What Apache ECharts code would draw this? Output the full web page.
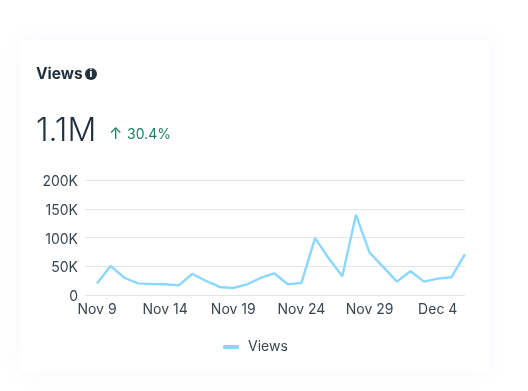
<!DOCTYPE html>
<html>
<head>
<meta charset="utf-8">
<style>
html, body { margin: 0; padding: 0; background: #fff; }
#main { width: 528px; height: 391px; }
</style>
</head>
<body>
<div id="main"></div>
<script src="https://cdn.jsdelivr.net/npm/echarts@6/dist/echarts.min.js"></script>
<script>
// one entry per day, Nov 9 .. Dec 6
var days = ['Nov 9','Nov 10','Nov 11','Nov 12','Nov 13','Nov 14','Nov 15','Nov 16','Nov 17','Nov 18',
  'Nov 19','Nov 20','Nov 21','Nov 22','Nov 23','Nov 24','Nov 25','Nov 26','Nov 27','Nov 28',
  'Nov 29','Nov 30','Dec 1','Dec 2','Dec 3','Dec 4','Dec 5','Dec 6'];
var views = [20000,50500,30000,20300,19200,18600,16800,37000,24400,14000,
  12200,18600,29600,37800,18600,21000,98800,64000,32500,139500,
  73800,48800,23200,41300,23200,28500,30800,70900];
var labelIdx = [0,5,10,15,20,25];

var font = 'Inter';
var ink = '#39454f';

var chart = echarts.init(document.getElementById('main'));
chart.setOption({
  animation: false,
  textStyle: { fontFamily: font },
  grid: { left: 85, right: 63, top: 180, height: 115 },
  xAxis: {
    type: 'value',
    min: -0.88,
    max: 27,
    splitLine: { show: false },
    axisLine: { show: false },
    axisTick: { show: false },
    axisLabel: {
      customValues: labelIdx,
      color: ink,
      fontSize: 14,
      margin: 8,
      formatter: function (v) { return days[v]; }
    }
  },
  yAxis: {
    type: 'value',
    min: 0,
    max: 200000,
    interval: 50000,
    axisLine: { show: false },
    axisTick: { show: false },
    splitLine: { lineStyle: { color: '#e4e4e6', width: 1 } },
    axisLabel: {
      margin: 7,
      formatter: function (v) { return '{t|' + (v === 0 ? '0' : (v / 1000) + 'K') + '}'; },
      rich: { t: { color: ink, fontSize: 14, fontFamily: font, padding: [4, 0, 0, 0] } }
    }
  },
  legend: {
    left: 218,
    top: 335,
    itemWidth: 16,
    itemHeight: 4,
    icon: 'roundRect',
    textStyle: { color: ink, fontSize: 14, fontFamily: font, padding: [0, 0, 0, 4] },
    data: ['Views']
  },
  series: [{
    name: 'Views',
    type: 'line',
    showSymbol: false,
    z: 5,
    lineStyle: { color: '#8ad8ff', width: 2.4 },
    itemStyle: { color: '#8ad8ff' },
    data: views.map(function (v, i) { return [i, v]; })
  }],
  graphic: [
    { type: 'rect', z: -10, silent: true,
      shape: { x: 20, y: 40, width: 469, height: 332, r: 4 },
      style: { fill: '#fff', shadowBlur: 20, shadowColor: 'rgba(120,110,230,0.06)' } },
    { type: 'text', left: 36, top: 66, z: 10,
      style: { text: 'Views', fill: '#1f2f3d', font: '700 15.5px Inter' } },
    { type: 'circle', z: 10, shape: { cx: 91, cy: 74, r: 6 }, style: { fill: '#22323f' } },
    { type: 'text', z: 11, x: 91, y: 74,
      style: { text: 'i', fill: '#fff', font: '800 10px Inter', align: 'center', verticalAlign: 'middle' } },
    { type: 'text', left: 36, top: 115, z: 10,
      style: { text: '1.1M', fill: '#1f2f3d', font: '300 32px Inter' } },
    { type: 'text', left: 109, top: 126, z: 10,
      style: { text: '↑', fill: '#1b7f62', font: '400 16px Inter' } },
    { type: 'text', left: 127, top: 128, z: 10,
      style: { text: '30.4%', fill: '#1b7f62', font: '400 14px Inter' } }
  ]
});
</script>
</body>
</html>
